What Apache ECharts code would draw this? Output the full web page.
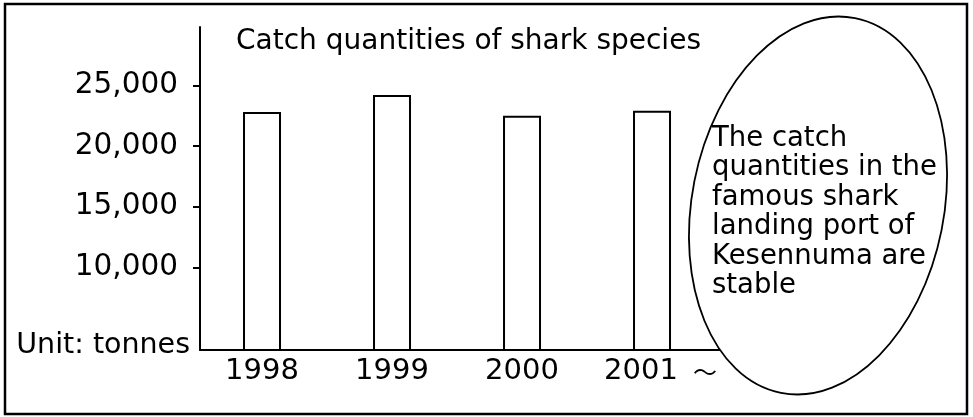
<!DOCTYPE html>
<html><head><meta charset="utf-8">
<script src="https://cdn.jsdelivr.net/npm/echarts@6/dist/echarts.min.js"></script>
<style>html,body{margin:0;padding:0;background:#fff}#c{width:973px;height:417px}</style>
</head><body><div id="c"></div>
<script>
const years = [1998, 1999, 2000, 2001];
const catchTonnes = [22800, 24200, 22500, 22900];
const yTicks = [10000, 15000, 20000, 25000];
const titleText = 'Catch quantities of shark species';
const unitText = 'Unit: tonnes';
const noteLines = ['The catch', 'quantities in the', 'famous shark', 'landing port of', 'Kesennuma are', 'stable'];

const FONT = 'DejaVu Sans';
const INK = '#000';
const chart = echarts.init(document.getElementById('c'), null, {renderer: 'canvas'});
chart.setOption({
  backgroundColor: '#fff',
  animation: false,
  grid: {left: 200, top: 27, width: 523, bottom: 67, containLabel: false},
  xAxis: {
    type: 'value', min: 1997.523, max: 2001.546,
    axisLine: {show: true, lineStyle: {color: INK, width: 2}},
    axisTick: {show: false},
    splitLine: {show: false},
    axisLabel: {
      customValues: years, margin: 7,
      color: INK, fontFamily: FONT, fontSize: 29,
      formatter: v => v === years[years.length - 1] ? '{a|' + v + '}{t|～}' : String(v),
      rich: {
        a: {color: INK, fontFamily: FONT, fontSize: 29, padding: [0, 0, 0, 17]},
        t: {color: INK, fontFamily: 'Noto Sans CJK JP', fontSize: 24, padding: [0, 0, 0, 15]}
      }
    }
  },
  yAxis: {
    type: 'value', min: 3200, max: 29800,
    axisLine: {show: true, lineStyle: {color: INK, width: 2}},
    axisTick: {show: true, customValues: yTicks, length: 7, lineStyle: {color: INK, width: 2}},
    splitLine: {show: false},
    axisLabel: {
      customValues: yTicks, margin: 22,
      color: INK, fontFamily: FONT, fontSize: 29.5,
      formatter: v => v.toLocaleString('en-US')
    }
  },
  series: [{
    type: 'bar',
    data: years.map((y, i) => [y, catchTonnes[i]]),
    barWidth: 38,
    itemStyle: {color: '#fff', borderColor: INK, borderWidth: 2}
  }],
  graphic: [
    {type: 'rect', z: 1, shape: {x: 5, y: 4, width: 962, height: 410},
     style: {fill: 'none', stroke: INK, lineWidth: 2.5}},
    {type: 'text', z: 10, x: 236, y: 42,
     style: {text: titleText, fill: INK, font: '28px "' + FONT + '"', verticalAlign: 'middle', align: 'left'}},
    {type: 'text', z: 10, x: 190, y: 346,
     style: {text: unitText, fill: INK, font: '28.5px "' + FONT + '"', verticalAlign: 'middle', align: 'right'}},
    {type: 'ellipse', z: 20, x: 818, y: 205.5, rotation: -0.195,
     shape: {cx: 0, cy: 0, rx: 126, ry: 191},
     style: {fill: '#fff', stroke: INK, lineWidth: 1.8}},
    {type: 'text', z: 30, x: 712, y: 124,
     style: {text: noteLines.join('\n'), fill: INK, font: '27.5px "' + FONT + '"', lineHeight: 29.5, verticalAlign: 'top', align: 'left'}}
  ]
});
</script></body></html>
